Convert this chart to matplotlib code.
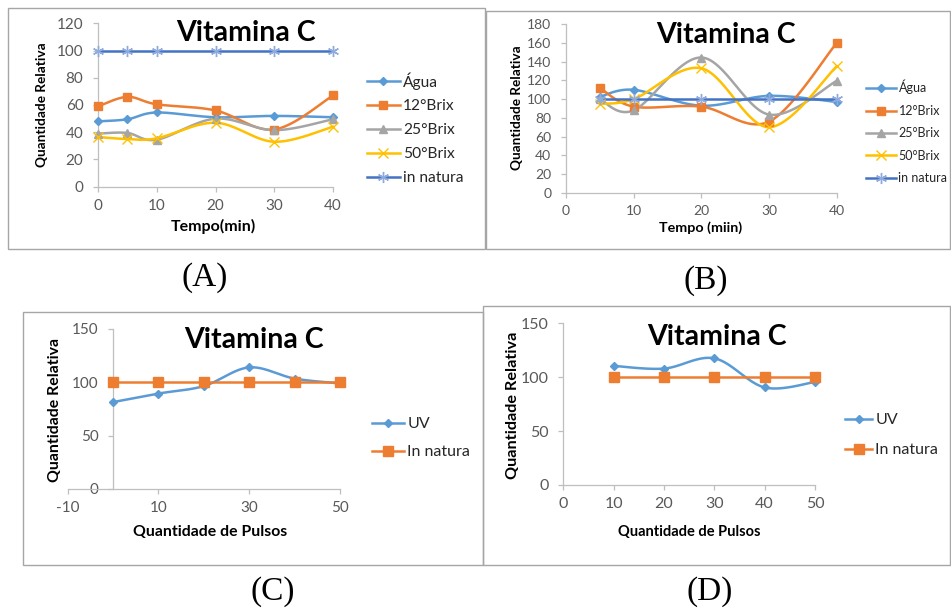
import numpy as np
import matplotlib.pyplot as plt
from matplotlib.lines import Line2D
from matplotlib.patches import Rectangle

W, H = 951, 608
plt.rcParams['font.family'] = ['Lato', 'DejaVu Sans']
plt.rcParams['axes.unicode_minus'] = False

# (A) vitamina C x tempo, diferentes xaropes
tempo_a = [0, 5, 10, 20, 30, 40]
agua_a = [48, 49.5, 54.5, 51, 52, 51]
brix12_a = [59, 66, 60.5, 56, 42, 67]
brix25_a = [39, 39.5, 34.5, 50, 41.5, 49.5]
brix50_a = [36.5, 35, 35.5, 47, 33, 44]
natura_a = [100, 100, 100, 100, 100, 100]

# (B)
tempo_b = [5, 10, 20, 30, 40]
agua_b = [102.5, 110, 93, 103.5, 97]
brix12_b = [112, 92, 92, 76, 160]
brix25_b = [100, 88, 144.5, 83.5, 119.5]
brix50_b = [95, 100, 133, 70, 135]
natura_b = [100, 100, 100, 100, 100]

# (C) e (D) pulsos UV
pulsos_c = [0, 10, 20, 30, 40, 50]
uv_c = [81.5, 89.5, 96.5, 114, 103.5, 99]
natura_c = [100, 100, 100, 100, 100, 100]

pulsos_d = [10, 20, 30, 40, 50]
uv_d = [110.5, 108, 117.5, 90.5, 95.5]
natura_d = [100, 100, 100, 100, 100]

series_labels = ['Água', '12°Brix', '25°Brix', '50°Brix', 'in natura']
c_agua, c_12, c_25, c_50 = '#5B9BD5', '#ED7D31', '#A5A5A5', '#FFC000'
c_nat, c_nat_mk = '#4472C4', '#8FAADC'
star = (6, 2, 0)
axis_gray = '#BFBFBF'
txt_gray = '#595959'


def fx(x):
    return x / W


def fy(y):
    return 1 - y / H


def box(x0, y0, x1, y1):
    return [fx(x0), fy(y1), (x1 - x0) / W, (y1 - y0) / H]


def smooth(x, y, n=30):
    # bezier "linha suavizada" como no Excel
    p = np.column_stack([x, y]).astype(float)
    q = np.vstack([p[:1], p, p[-1:]])
    t = np.linspace(0, 1, n)[:, None]
    out = []
    for i in range(len(p) - 1):
        p0, p3 = p[i], p[i + 1]
        c1 = p0 + (q[i + 2] - q[i]) / 6
        c2 = p3 - (q[i + 3] - q[i + 1]) / 6
        seg = ((1 - t) ** 3) * p0 + 3 * ((1 - t) ** 2) * t * c1 + 3 * (1 - t) * t ** 2 * c2 + t ** 3 * p3
        out.append(seg)
    s = np.vstack(out)
    return s[:, 0], s[:, 1]


def serie(ax, x, y, color, marker, ms, mcolor=None, curved=True, mew=1.0):
    mcolor = mcolor or color
    if curved:
        sx, sy = smooth(x, y)
    else:
        sx, sy = x, y
    ax.plot(sx, sy, color=color, lw=1.8, clip_on=False, zorder=3)
    ax.plot(x, y, ls='none', marker=marker, ms=ms, color=mcolor, mec=mcolor,
            mew=mew, clip_on=False, zorder=4)
    return Line2D([], [], color=color, lw=1.8, marker=marker, ms=ms,
                  mfc=mcolor, mec=mcolor, mew=mew)


def style(ax, size=11):
    for s in ['top', 'right']:
        ax.spines[s].set_visible(False)
    for s in ['left', 'bottom']:
        ax.spines[s].set_color(axis_gray)
        ax.spines[s].set_linewidth(0.9)
    ax.tick_params(colors=axis_gray, labelcolor=txt_gray, labelsize=size,
                   length=3.5, width=0.9)
    ax.tick_params(axis='y', pad=7)
    ax.tick_params(axis='x', pad=5)
    ax.patch.set_alpha(0)


def legenda(handles, labels, x, y, size, hl, ls):
    fig.legend(handles, labels, loc='upper left', bbox_to_anchor=(fx(x), fy(y)),
               frameon=False, fontsize=size, handlelength=hl, handletextpad=0.2,
               labelspacing=ls, borderpad=0, borderaxespad=0, labelcolor='#262626')


fig = plt.figure(figsize=(W / 100, H / 100), dpi=100)

# molduras dos graficos
for x0, y0, x1, y1 in [(8, 8, 485, 249), (486, 11, 950, 249),
                       (23, 312, 483, 565), (483, 306, 950, 565)]:
    fig.patches.append(Rectangle((fx(x0), fy(y1)), (x1 - x0) / W, (y1 - y0) / H,
                                 transform=fig.transFigure, fill=False,
                                 ec='#A6A6A6', lw=1.0))

# ---- (A)
ax = fig.add_axes(box(98, 23.3, 333, 186.7))
style(ax)
h = [serie(ax, tempo_a, agua_a, c_agua, 'D', 4.5),
     serie(ax, tempo_a, brix12_a, c_12, 's', 6),
     serie(ax, tempo_a, brix25_a, c_25, '^', 6),
     serie(ax, tempo_a, brix50_a, c_50, 'x', 7),
     serie(ax, tempo_a, natura_a, c_nat, star, 8, c_nat_mk, curved=False)]
ax.set_xlim(0, 40)
ax.set_ylim(0, 120)
ax.set_xticks(range(0, 41, 10))
ax.set_yticks(range(0, 121, 20))
legenda(h, series_labels, 367, 72, 11.2, 2.1, 0.64)
fig.text(fx(246), fy(33), 'Vitamina C', ha='center', va='center',
         fontsize=20.5, fontweight='bold')
fig.text(fx(42), fy(105), 'Quantidade Relativa', rotation=90, ha='center',
         va='center', fontsize=9.8, fontweight='bold')
fig.text(fx(213), fy(226), 'Tempo(min)', ha='center', va='center',
         fontsize=11.5, fontweight='bold')

# ---- (B)
ax = fig.add_axes(box(566, 24.3, 836.7, 192.7))
style(ax, 10)
h = [serie(ax, tempo_b, agua_b, c_agua, 'D', 4),
     serie(ax, tempo_b, brix12_b, c_12, 's', 6),
     serie(ax, tempo_b, brix25_b, c_25, '^', 6),
     serie(ax, tempo_b, brix50_b, c_50, 'x', 7),
     serie(ax, tempo_b, natura_b, c_nat, star, 8, c_nat_mk, curved=False)]
ax.set_xlim(0, 40)
ax.set_ylim(0, 180)
ax.set_xticks(range(0, 41, 10))
ax.set_yticks(range(0, 181, 20))
legenda(h, series_labels, 866, 80, 9, 2.4, 0.83)
fig.text(fx(726), fy(35), 'Vitamina C', ha='center', va='center',
         fontsize=20.5, fontweight='bold')
fig.text(fx(517), fy(108), 'Quantidade Relativa', rotation=90, ha='center',
         va='center', fontsize=9.8, fontweight='bold')
fig.text(fx(701), fy(228), 'Tempo (miin)', ha='center', va='center',
         fontsize=10.3, fontweight='bold')

# ---- (C)
ax = fig.add_axes(box(67.7, 329, 340, 489))
style(ax)
h = [serie(ax, pulsos_c, uv_c, c_agua, 'D', 4.5),
     serie(ax, pulsos_c, natura_c, c_12, 's', 6.5, curved=False)]
ax.set_xlim(-10, 50)
ax.set_ylim(0, 150)
ax.spines['left'].set_position(('data', 0))
ax.set_xticks([-10, 10, 30, 50])
ax.set_yticks([0, 50, 100, 150])
legenda(h, ['UV', 'In natura'], 372, 417, 11.5, 2.0, 0.875)
fig.text(fx(254), fy(340), 'Vitamina C', ha='center', va='center',
         fontsize=20.5, fontweight='bold')
fig.text(fx(55), fy(410), 'Quantidade Relativa', rotation=90, ha='center',
         va='center', fontsize=11.4, fontweight='bold')
fig.text(fx(210), fy(532), 'Quantidade de Pulsos', ha='center', va='center',
         fontsize=11.4, fontweight='bold')

# ---- (D)
ax = fig.add_axes(box(563.3, 323.3, 815, 485))
style(ax, 11.5)
h = [serie(ax, pulsos_d, uv_d, c_agua, 'D', 4.5),
     serie(ax, pulsos_d, natura_d, c_12, 's', 6.5, curved=False)]
ax.set_xlim(0, 50)
ax.set_ylim(0, 150)
ax.set_xticks(range(0, 51, 10))
ax.set_yticks([0, 50, 100, 150])
legenda(h, ['UV', 'In natura'], 845, 413, 11.5, 1.7, 1.0)
fig.text(fx(717), fy(337), 'Vitamina C', ha='center', va='center',
         fontsize=20.5, fontweight='bold')
fig.text(fx(513), fy(405), 'Quantidade Relativa', rotation=90, ha='center',
         va='center', fontsize=11.7, fontweight='bold')
fig.text(fx(689), fy(532), 'Quantidade de Pulsos', ha='center', va='center',
         fontsize=10.5, fontweight='bold')

# rotulos dos paineis
for lbl, x, y in [('(A)', 205, 278), ('(B)', 706, 281), ('(C)', 273, 592), ('(D)', 710, 592)]:
    fig.text(fx(x), fy(y), lbl, ha='center', va='center', fontsize=24,
             family='Liberation Serif')

fig.savefig('out.png', dpi=100)
